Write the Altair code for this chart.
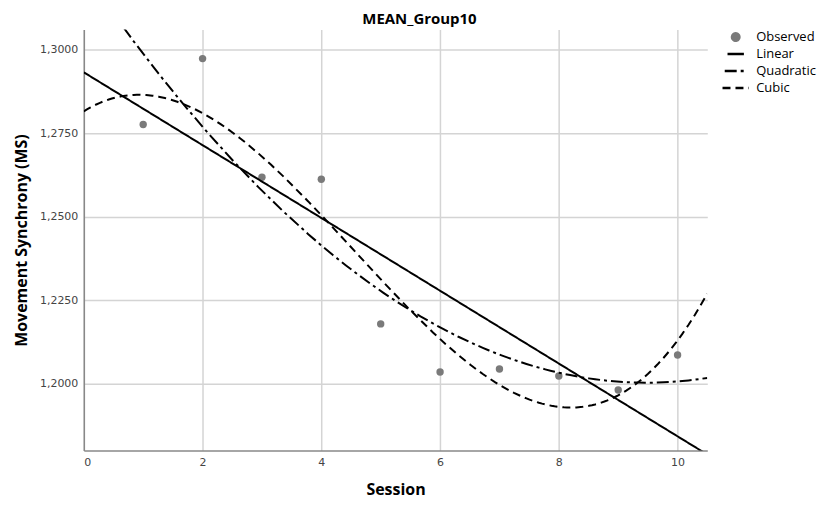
import altair as alt
import pandas as pd

sessions = [1, 2, 3, 4, 5, 6, 7, 8, 9, 10]
ms_values = [1.2776, 1.2973, 1.2618, 1.2612, 1.2179, 1.2035, 1.2044, 1.2023, 1.1981, 1.2086]
series_names = ["Observed", "Linear", "Quadratic", "Cubic"]
x_ticks = [0, 2, 4, 6, 8, 10]
y_ticks = [1.2, 1.225, 1.25, 1.275, 1.3]

df = pd.DataFrame({"Session": sessions, "MS": ms_values})

x_scale = alt.Scale(domain=[0, 10.5], nice=False, zero=False)
y_scale = alt.Scale(domain=[1.18, 1.306], nice=False, zero=False)

x_enc = alt.X("Session:Q", scale=x_scale, title="Session",
              axis=alt.Axis(values=x_ticks, format="d"))
y_enc = alt.Y("MS:Q", scale=y_scale, title="Movement Synchrony (MS)",
              axis=alt.Axis(values=y_ticks,
                            labelExpr="replace(format(datum.value, '.4f'), '.', ',')"))

color_scale = alt.Scale(domain=series_names, range=["#7a7a7a", "black", "black", "black"])
shape_scale = alt.Scale(domain=series_names, range=["circle", "stroke", "stroke", "stroke"])
size_scale = alt.Scale(domain=series_names, range=[55, 700, 700, 700])
dash_scale = alt.Scale(domain=series_names, range=[[1, 0], [1, 0], [12, 4, 3, 4], [8, 5]])

legend = alt.Legend(title=None)

base = alt.Chart(df)

points = base.transform_calculate(series="'Observed'").mark_point(
    filled=True, opacity=1
).encode(
    x=x_enc, y=y_enc,
    color=alt.Color("series:N", scale=color_scale, legend=legend),
    shape=alt.Shape("series:N", scale=shape_scale, legend=legend),
    size=alt.Size("series:N", scale=size_scale, legend=legend),
)

def fit(method, name, order=None):
    kw = dict(method=method, extent=[0, 10.5])
    if order is not None:
        kw["order"] = order
    return base.transform_regression("Session", "MS", **kw).transform_calculate(
        series=f"'{name}'"
    ).mark_line(strokeWidth=2, clip=True).encode(
        x=x_enc, y=y_enc,
        color=alt.Color("series:N", scale=color_scale, legend=legend),
        strokeDash=alt.StrokeDash("series:N", scale=dash_scale, legend=legend),
    )

chart = alt.layer(
    points,
    fit("linear", "Linear"),
    fit("quad", "Quadratic"),
    fit("poly", "Cubic", order=3),
).properties(
    width=625, height=422,
    padding={"top": 3, "left": 5, "right": 5, "bottom": 5},
    title=alt.TitleParams("MEAN_Group10", fontSize=15, fontWeight="bold",
                          font="Open Sans", color="black", dx=24, offset=3),
).configure_view(stroke=None).configure_axis(
    grid=True, gridColor="#d4d4d4", gridWidth=1.5,
    domainColor="#888888", domainWidth=1.5, ticks=False,
    labelFont="DejaVu Sans", labelFontSize=11, labelColor="#444444",
    titleFont="Open Sans", titleFontSize=16, titleFontWeight="bold", titleColor="black",
    labelPadding=6,
).configure_axisY(titlePadding=10).configure_axisX(titlePadding=14).configure_legend(
    orient="right", offset=14, labelFont="Open Sans", labelFontSize=13, labelColor="black",
    symbolStrokeWidth=2.5, rowPadding=2, clipHeight=15, padding=0, labelOffset=6,
)

chart.save("out.html", embed_options={"renderer": "svg", "actions": False})
